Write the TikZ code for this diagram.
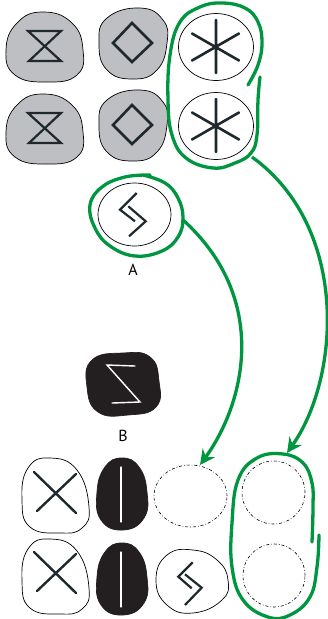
\documentclass[tikz,border=0pt]{standalone}
\usepackage{fontspec}
\setmainfont{PT Sans}
\usetikzlibrary{arrows.meta}
\definecolor{stonegray}{RGB}{190,191,195}
\definecolor{grn}{RGB}{0,150,64}
\definecolor{ink}{RGB}{30,40,45}
\definecolor{blk}{RGB}{35,31,32}
\begin{document}
\begin{tikzpicture}[x=1pt,y=-1pt,
  stone/.style={draw=black,line width=0.7pt},
  gstone/.style={stone,fill=stonegray},
  bstone/.style={draw=blk,fill=blk,line width=0.7pt},
  sym/.style={draw=ink,line width=2.4pt,line cap=round,line join=miter},
  wsym/.style={draw=white,line width=1.4pt,line cap=round,line join=miter},
  gloop/.style={draw=grn,line width=3.3pt,line cap=round},
  garrow/.style={draw=grn,line width=3.3pt,-{Stealth[length=15pt,width=15pt,inset=5pt]}},
  dashc/.style={draw=black,line width=0.6pt,dash pattern=on 3pt off 2pt on 0.7pt off 2pt},
  lab/.style={font=\fontsize{16}{16}\selectfont,inner sep=0pt}]
\useasboundingbox (0,0) rectangle (328,619);
% centres
\coordinate (h1) at (45,47);
\coordinate (h2) at (45,129);
\coordinate (d1) at (133,44);
\coordinate (d2) at (133,126);
\coordinate (a1) at (216,47);
\coordinate (a2) at (216,126);
\coordinate (sa) at (134.5,214.5);
\coordinate (sb) at (123,384);
\coordinate (x1) at (55,496);
\coordinate (x2) at (55,577);
\coordinate (e1) at (122,494);
\coordinate (e2) at (122,579);
\coordinate (c1) at (190.5,496);
\coordinate (w2) at (192,582);
\coordinate (r1) at (273.5,492.5);
\coordinate (r2) at (274,575.5);
% hourglass stones
\foreach \c in {h1,h2}{
  \begin{scope}[shift={(\c)}]
    \path[gstone] plot[smooth cycle,tension=0.8] coordinates {(-2,-35)(27,-24)(38,3)(32,28)(2,35)(-30,28)(-39,3)(-28,-24)};
    \path[sym,line width=2.2pt] (-17,-16)--(16,-16)--(-16,14)--(16,14)--cycle;
  \end{scope}}
% diamond stones
\foreach \c in {d1,d2}{
  \begin{scope}[shift={(\c)}]
    \path[gstone] plot[smooth cycle,tension=0.8] coordinates {(7,-36)(30,-24)(34,-1)(24,26)(0,35)(-26,26)(-34,-1)(-26,-26)};
    \path[sym,line width=2.6pt] (-1,-21)--(19,-1)--(-1,18)--(-20,-1)--cycle;
  \end{scope}}
% asterisk stones
\foreach \c in {a1,a2}{
  \begin{scope}[shift={(\c)}]
    \path[stone,fill=white] (0,0) ellipse [x radius=37.5pt,y radius=33.5pt];
    \path[sym,line width=2.6pt] (0,-27)--(0,26) (-24,-13.5)--(23,13.5) (-24,13.5)--(23,-13.5);
  \end{scope}}
% stone A
\begin{scope}[shift={(sa)}]
  \path[stone,fill=white] (0,0) ellipse [x radius=36.5pt,y radius=31.5pt];
  \path[sym,line width=2.2pt,line cap=butt] (2.2,-21.5)--(-14.5,-4.8)--(0.5,6.8);
  \path[sym,line width=2.2pt,line cap=butt] (-6.2,-8.2)--(11.2,6.8)--(-5.5,21.8);
\end{scope}
\node[lab] (labA) at (133,270) {A};
% stone B
\begin{scope}[shift={(sb)}]
  \path[bstone] plot[smooth cycle,tension=0.8] coordinates {(0,-31)(27,-27)(36,-3)(33,23)(5,31)(-25,28)(-36,3)(-31,-24)};
  \path[wsym] (12,-18)--(-16,-19)--(17,18)--(-11,19);
\end{scope}
\node[lab] (labB) at (123,436) {B};
% bottom X stones
\foreach \c/\o in {x1/-3,x2/-4}{
  \begin{scope}[shift={(\c)}]
    \path[stone,fill=white] plot[smooth cycle,tension=0.8] coordinates {(-5,-38)(22,-26)(34,11)(27,32)(5,37)(-25,31)(-33,4)(-27,-28)};
    \path[sym,line width=2.4pt] (-21,\o-21)--(21,\o+20) (21,\o-19)--(-18,\o+18);
  \end{scope}}
% black egg stones
\foreach \c in {e1,e2}{
  \begin{scope}[shift={(\c)}]
    \path[bstone] plot[smooth cycle,tension=0.8] coordinates {(0,-36)(17,-27)(25,-2)(22,24)(1,36)(-21,26)(-25,-2)(-17,-27)};
    \path[wsym,line width=1.3pt] (-1,-27)--(-1,28);
  \end{scope}}
% dashed empty places
\path[dashc] (c1) ellipse [x radius=36.5pt,y radius=31pt];
\path[dashc] (r1) ellipse [x radius=31.5pt,y radius=31.5pt];
\path[dashc] (r2) ellipse [x radius=31pt,y radius=31.5pt];
% white stone with symbol, bottom
\begin{scope}[shift={(w2)}]
  \path[stone,fill=white] plot[smooth cycle,tension=0.8] coordinates {(1,-32)(-25,-27)(-36,-2)(-25,23)(1,31)(30,18)(36,-2)(25,-22)};
  \path[sym,line width=2.2pt,line cap=butt] (0.7,-19.7)--(-13.7,-5.3)--(-0.3,6.3);
  \path[sym,line width=2.2pt,line cap=butt] (-7,-7.7)--(9.7,5.7)--(-7,23);
\end{scope}
% green loops
\path[gloop] plot[smooth,tension=0.7] coordinates {(260,77)(258,100)(257,135)(251,153)(235,163)(213,168)(186,158)(172,135)(168,100)(170,55)(180,22)(200,7)(222,3)(245,8)(258,22)(262,43)(258,65)(248,85)};
\path[gloop] plot[smooth,tension=0.7] coordinates {(150,175)(125,177)(102,187)(90,205)(95,228)(110,246)(135,256)(162,251)(178,237)(183,218)(178,198)(165,183)(143,175)};
\path[gloop] plot[smooth,tension=0.7] coordinates {(319,535)(317,567)(310,597)(290,615)(268,617)(243,600)(232,567)(232,523)(238,480)(257,458)(283,454)(303,463)(312,483)(313,507)(312,542)};
% arrows
\coordinate (pA) at (182,219);
\coordinate (tA) at (200,465);
\coordinate (pS) at (252,157);
\coordinate (tS) at (287,453);
\draw[garrow] (pA) .. controls (270,298) and (245.5,402) .. (tA);
\draw[garrow] (pS) .. controls (350,228) and (340,378) .. (tS);
\end{tikzpicture}
\end{document}
